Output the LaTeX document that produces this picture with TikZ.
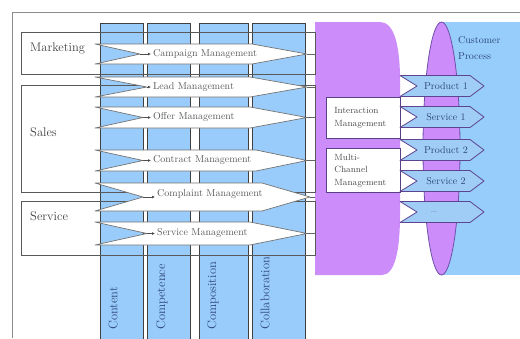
\documentclass[tikz,border=0pt]{standalone}
\usepackage{xcolor}
\usepackage{tikz}
\usetikzlibrary{shapes.geometric, arrows.meta, positioning, calc}
\definecolor{laneblue}{RGB}{153,204,250}
\definecolor{orchid}{RGB}{204,140,250}
\definecolor{plum}{RGB}{110,80,170}
\definecolor{custblue}{RGB}{150,205,250}
\definecolor{chevblue}{RGB}{160,205,245}
\definecolor{inkblue}{RGB}{45,70,120}

\begin{document}
\begin{tikzpicture}[
    x=1pt, y=-1pt,
    column/.style={draw=black!75, thick, fill=laneblue},
    lane/.style={draw=black!65, thick},
    lchev/.style={draw=black!55, fill=white, line width=0.7pt, line join=round},
    rchev/.style={draw=plum!85!black, fill=chevblue, thick, line join=round},
    pbox/.style={draw=plum!80!black, thick, fill=white, anchor=north west, minimum width=74pt,
                 text width=58pt, inner xsep=8pt, align=left, font=\fontsize{9}{12.5}\selectfont, text=black!70},
    big/.style={font=\fontsize{12.5}{14}\selectfont, text=black!75, anchor=west, inner sep=0pt},
    lbl/.style={font=\fontsize{10}{12}\selectfont, text=black!65, anchor=west, inner sep=0pt},
    rlbl/.style={font=\fontsize{10}{12}\selectfont, text=inkblue},
    collbl/.style={font=\fontsize{12.5}{14}\selectfont, text=inkblue, rotate=90, anchor=west, inner sep=0pt},
    tick/.style={-{Latex[length=3pt,width=3pt]}, thick, black!70, shorten >=2pt},
    stub/.style={thick, black!60}
]
\useasboundingbox (0,0) rectangle (520,338);
\fill[white] (0,0) rectangle (520,338);
% outer frame
\draw[black!45, thick] (520,12) -- (12,12) -- (12,338);

% customer side
\fill[custblue] (441,22) rectangle (520,275);
\node[ellipse, draw=plum, thick, fill=orchid, minimum width=37pt, minimum height=253pt, inner sep=0pt] (cust) at (441.5,148.5) {};
\node[font=\fontsize{10}{16}\selectfont, text=inkblue, align=left, anchor=west, inner sep=0pt] (custproc) at (458,48) {Customer\\Process};

% interaction block
\fill[orchid] (315,22) -- (380,22) .. controls (394,22) and (400,45) .. (400,80) -- (400,215)
    .. controls (400,250) and (395,275) .. (382,275) -- (315,275) -- cycle;
\coordinate (pl) at (315,22);

% columns
\draw[column] (100,23) rectangle (143,342);
\draw[column] (147,23) rectangle (190,342);
\draw[column] (199,23) rectangle (248,342);
\draw[column] (252,23) rectangle (305,342);
\node[collbl] (content) at (113,330) {Content};
\node[collbl] (competence) at (162,330) {Competence};
\node[collbl] (composition) at (213,330) {Composition};
\node[collbl] (collab) at (265,330) {Collaboration};

% lanes
\draw[lane] (21,32) rectangle (315,74);
\draw[lane] (21,85) rectangle (315,192);
\draw[lane] (21,201) rectangle (315,255);
\node[big] (mkt) at (30,48) {Marketing};
\node[big] (sales) at (30,132) {Sales};
\node[big] (svc) at (30,216) {Service};

% processes
\draw[lchev] (95,44) -- (252,44) -- (307,54) coordinate (t1) -- (252,64) -- (95,64) -- (140,54) coordinate (n1) -- cycle;
\draw[lchev] (95,77) -- (250,77) -- (307,87) coordinate (t2) -- (250,97) -- (95,97) -- (147,87) coordinate (n2) -- cycle;
\draw[lchev] (95,107) -- (250,107) -- (307,117.5) coordinate (t3) -- (250,128) -- (95,128) -- (143,117.5) coordinate (n3) -- cycle;
\draw[lchev] (95,150) -- (256,150) -- (307,160.5) coordinate (t4) -- (256,171) -- (95,171) -- (143,160.5) coordinate (n4) -- cycle;
\draw[lchev] (95,183) -- (262,183) -- (310,197) coordinate (t5) -- (262,211) -- (95,211) -- (143,197) coordinate (n5) -- cycle;
\draw[lchev] (95,222) -- (250,222) -- (307,233.5) coordinate (t6) -- (250,245) -- (95,245) -- (147,233.5) coordinate (n6) -- cycle;
\node[lbl, right=13pt of n1] (campaign) {Campaign Management};
\node[lbl, right=6pt of n2] (lead) {Lead Management};
\node[lbl, right=10pt of n3] (offer) {Offer Management};
\node[lbl, right=10pt of n4] (contract) {Contract Management};
\node[lbl, right=14pt of n5, yshift=3pt] (complaint) {Complaint Management};
\node[lbl, right=10pt of n6] (servmgmt) {Service Management};
\draw[tick] (n1) -- (campaign);
\draw[tick] (n2) -- (lead);
\draw[tick] (n3) -- (offer);
\draw[tick] (n4) -- (contract);
\draw[tick] (n5) -- (complaint.west |- n5);
\draw[tick] (n6) -- (servmgmt);
\draw[stub] (t1) -- (t1 -| pl);
\draw[stub] (t2) -- (t2 -| pl);
\draw[stub] (t3) -- (t3 -| pl);
\draw[stub] (t4) -- (t4 -| pl);
\draw[stub] (t5) -- (t5 -| pl);
\draw[stub] (t6) -- (t6 -| pl);

% interaction boxes
\node[pbox, minimum height=41pt] (inter) at (326,97) {Interaction\\Management};
\node[pbox, minimum height=44pt] (multi) at (326,148) {Multi-\\Channel\\Management};

% products and services
\draw[rchev] (400,75.5) -- (470,75.5) -- (484,86) -- (470,96.5) -- (400,96.5) -- (417,86) -- cycle;
\draw[rchev] (400,106.5) -- (470,106.5) -- (484,117) -- (470,127.5) -- (400,127.5) -- (417,117) -- cycle;
\draw[rchev] (400,139.5) -- (470,139.5) -- (484,150) -- (470,160.5) -- (400,160.5) -- (417,150) -- cycle;
\draw[rchev] (400,170.5) -- (470,170.5) -- (484,181) -- (470,191.5) -- (400,191.5) -- (417,181) -- cycle;
\draw[rchev] (400,201.5) -- (470,201.5) -- (484,212) -- (470,222.5) -- (400,222.5) -- (417,212) -- cycle;
\node[rlbl] (prod1) at (446,86) {Product 1};
\node[rlbl] (serv1) at (446,117) {Service 1};
\node[rlbl] (prod2) at (446,150) {Product 2};
\node[rlbl] (serv2) at (446,181) {Service 2};
\node[rlbl, text=inkblue!60] (more) at (434,212) {\dots};
\end{tikzpicture}
\end{document}
